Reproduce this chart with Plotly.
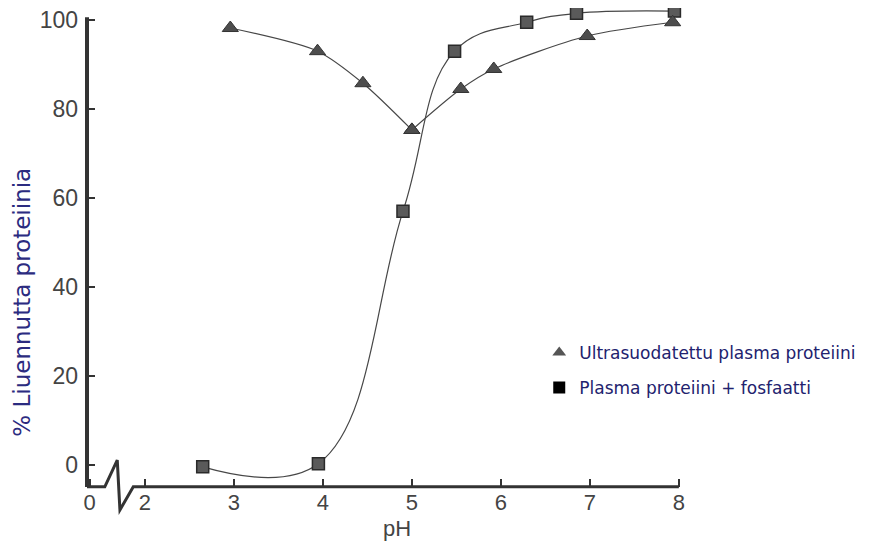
import plotly.graph_objects as go

# Data
ph_fosfaatti = [2.65, 3.95, 4.9, 5.48, 6.29, 6.85, 7.95]
pct_fosfaatti = [-0.4, 0.3, 57, 93, 99.5, 101.5, 102]

ph_ultra = [2.96, 3.94, 4.45, 5.0, 5.55, 5.92, 6.97, 7.93]
pct_ultra = [98.2, 93, 85.8, 75.3, 84.5, 89, 96.4, 99.5]

x_tickvals = [1.38, 2, 3, 4, 5, 6, 7, 8]
x_ticktext = ["0", "2", "3", "4", "5", "6", "7", "8"]
y_tickvals = [0, 20, 40, 60, 80, 100]

label_ultra = "Ultrasuodatettu plasma proteiini"
label_fosf = "Plasma proteiini + fosfaatti"
x_title = "pH"
y_title = "% Liuennutta proteiinia"

X_RANGE = [1.35, 8.08]
Y_RANGE = [-4.94, 102.7]

def px(x):
    return (x - X_RANGE[0]) / (X_RANGE[1] - X_RANGE[0])

def py(y):
    return (y - Y_RANGE[0]) / (Y_RANGE[1] - Y_RANGE[0])

LINE_COL = "#474747"
MIN_IDX = pct_ultra.index(min(pct_ultra))  # the two branches of the triangle curve meet here

fig = go.Figure()
fig.add_trace(go.Scatter(
    x=ph_fosfaatti, y=pct_fosfaatti, mode="lines+markers", showlegend=False,
    line=dict(color=LINE_COL, width=1.2, shape="spline", smoothing=1.15),
    marker=dict(symbol="square", size=12, color="#5a5a5a",
                line=dict(color="#2a2a2a", width=1.5)),
))
for xs, ys in [(ph_ultra[:MIN_IDX + 1], pct_ultra[:MIN_IDX + 1]),
               (ph_ultra[MIN_IDX:], pct_ultra[MIN_IDX:])]:
    fig.add_trace(go.Scatter(
        x=xs, y=ys, mode="lines+markers", showlegend=False,
        line=dict(color=LINE_COL, width=1.2, shape="spline", smoothing=0.8),
        marker=dict(symbol="triangle-up", size=14, color="#4d4d4d",
                    line=dict(color="#333333", width=1)),
    ))
# legend entries (markers only, as in the reference)
fig.add_trace(go.Scatter(
    x=[None], y=[None], mode="markers", name=label_ultra, legendgroup="a",
    marker=dict(symbol="triangle-up", size=12, color="#555555"),
))
fig.add_trace(go.Scatter(
    x=[None], y=[None], mode="markers", name=label_fosf, legendgroup="b",
    marker=dict(symbol="square", size=12, color="#000000"),
))

# y axis line
fig.add_shape(type="line", xref="paper", yref="paper",
              x0=px(1.35), x1=px(1.35), y0=py(-4.94), y1=py(100.6),
              line=dict(color="#333333", width=4))
# broken x axis line (with zigzag break)
pts = [(1.35, -4.9), (1.55, -4.9), (1.69, 1.1), (1.72, -10.1), (1.87, -4.9), (8.0, -4.9)]
path = "M " + " L ".join(f"{px(a):.5f} {py(b):.5f}" for a, b in pts)
fig.add_shape(type="path", xref="paper", yref="paper", path=path,
              line=dict(color="#333333", width=3))

# axis titles as annotations (placed like the reference)
fig.add_annotation(text=y_title, textangle=-90, xref="paper", yref="paper",
                   x=-0.11, y=0.385, xanchor="center", yanchor="middle", showarrow=False,
                   font=dict(family="DejaVu Sans", size=23, color="#2b2b80"))
fig.add_annotation(text=x_title, xref="paper", yref="paper",
                   x=0.518, y=-0.086, xanchor="center", yanchor="middle", showarrow=False,
                   font=dict(family="Liberation Sans, Arial", size=22, color="#444444"))

# the page adds an 8px body margin, so the figure is 8px smaller than the window
fig.update_layout(
    width=861, height=536,
    margin=dict(l=79, r=183, t=0, b=57),
    paper_bgcolor="white", plot_bgcolor="white",
    showlegend=True,
    legend=dict(x=0.755, y=0.3175, xanchor="left", yanchor="top",
                font=dict(family="DejaVu Sans", size=17, color="#22226e"),
                bgcolor="rgba(0,0,0,0)", traceorder="grouped", tracegroupgap=10),
    font=dict(family="Liberation Sans, Arial", color="#333333"),
)
fig.update_xaxes(
    range=X_RANGE, showgrid=False, zeroline=False, showline=False, automargin=False,
    tickvals=x_tickvals, ticktext=x_ticktext, ticks="inside", ticklen=8,
    tickcolor="#333333", tickwidth=1.5, ticklabeloverflow="allow",
    tickfont=dict(size=22, color="#444444"),
)
fig.update_yaxes(
    range=Y_RANGE, showgrid=False, zeroline=False, showline=False, automargin=False,
    tickvals=y_tickvals, ticks="inside", ticklen=8, ticklabelstandoff=8,
    tickcolor="#333333", tickwidth=1.5, ticklabeloverflow="allow",
    tickfont=dict(size=23, color="#444444"),
)

fig.write_html("out.html")
